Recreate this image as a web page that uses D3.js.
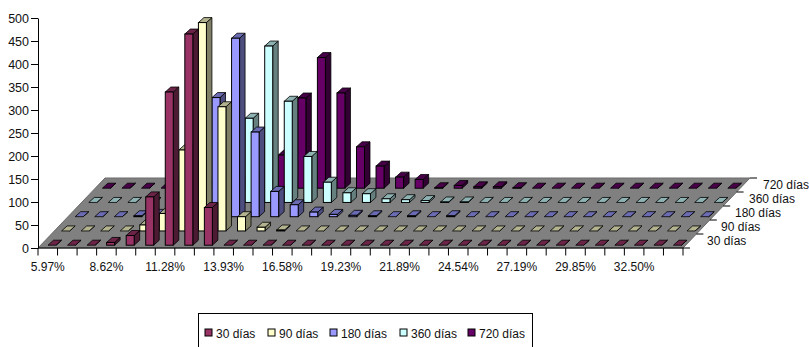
<!DOCTYPE html>
<html>
<head>
<meta charset="utf-8">
<script src="https://cdn.jsdelivr.net/npm/d3@7/dist/d3.min.js"></script>
<style>
  html, body { margin: 0; padding: 0; background: #fff; }
  svg { display: block; }
  text { font-family: "Liberation Sans", Arial, sans-serif; font-size: 12px; fill: #111; }
</style>
</head>
<body>
<svg id="chart" width="809" height="347"></svg>
<script>
// Rate buckets along the horizontal axis; only every third one is labelled.
const categories = ["5.97%","6.85%","7.74%","8.62%","9.51%","10.39%","11.28%","12.16%","13.05%","13.93%","14.81%",
  "15.70%","16.58%","17.46%","18.35%","19.23%","20.12%","21.00%","21.89%","22.77%","23.66%","24.54%",
  "25.42%","26.31%","27.19%","28.08%","28.96%","29.85%","30.73%","31.62%","32.50%","33.38%","34.27%"];
const yTicks = [0, 50, 100, 150, 200, 250, 300, 350, 400, 450, 500];

const seriesNames = ["30 días", "90 días", "180 días", "360 días", "720 días"];
const seriesColors = ["#993366", "#FFFFCC", "#9999FF", "#CCFFFF", "#660066"];

const dias30  = [0,0,0,6,21,105,333,459,82,0,0,0,0,0,0,0,0,0,0,0,0,0,0,0,0,0,0,0,0,0,0,0,0];
const dias90  = [0,0,0,0,13,38,176,453,270,31,8,2,0,0,0,0,0,0,0,0,0,0,0,0,0,0,0,0,0,0,0,0,0];
const dias180 = [0,0,0,2,5,25,110,259,388,184,55,26,10,5,3,2,0,2,0,2,0,0,0,0,0,0,0,0,0,0,0,0,0];
const dias360 = [0,0,0,0,2,8,30,60,183,340,220,100,44,21,19,8,6,4,1,1,0,0,0,0,0,0,0,0,0,0,0,0,0];
const dias720 = [0,0,0,0,0,2,5,10,30,72,196,284,207,90,48,24,19,1,6,3,3,1,0,0,0,0,0,0,0,0,0,0,0];
const seriesValues = [dias30, dias90, dias180, dias360, dias720];

const svg = d3.select("#chart");

// Front plane scales
const x = d3.scaleBand().domain(d3.range(categories.length)).range([38, 683]).paddingInner(0).paddingOuter(0);
const y = d3.scaleLinear().domain([0, 500]).range([248, 18]);

// Oblique projection of the depth axis: series slot -> screen offset
const depthX = d3.scaleLinear().domain([0, 5]).range([0, 67]);
const depthY = d3.scaleLinear().domain([0, 5]).range([0, -70]);

// Depth of a single bar footprint and its placement inside a slot
const barW = 8, barDX = 5.5, barDY = 5;
const slotX = k => 10 + 13.6 * k;
const slotY = k => 245.2 - 14.25 * k;

const shade = (c, f) => {
  const rgb = d3.rgb(c);
  return d3.rgb(rgb.r * f, rgb.g * f, rgb.b * f).formatHex();
};

// Floor
svg.append("polygon")
  .attr("points", [[38, 248], [683, 248], [683 + depthX(5), 248 + depthY(5)], [38 + depthX(5), 248 + depthY(5)]].join(" "))
  .attr("fill", "#808080").attr("stroke", "#6a6a6a").attr("stroke-width", 1);

// Bars, drawn from the rear row forward
const rows = svg.append("g").selectAll("g")
  .data(d3.range(seriesValues.length).reverse())
  .join("g");

rows.each(function (k) {
  const color = seriesColors[k];
  const g = d3.select(this).selectAll("g").data(seriesValues[k]).join("g");
  const left = (d, i) => x(i) + slotX(k);
  const base = slotY(k);
  const top = d => base - (y(0) - y(d));

  g.append("polygon") // right side
    .attr("points", (d, i) => {
      const l = left(d, i) + barW, t = top(d);
      return [[l, t], [l + barDX, t - barDY], [l + barDX, base - barDY], [l, base]].join(" ");
    })
    .attr("fill", shade(color, 0.5)).attr("stroke", "#000").attr("stroke-width", 0.8);

  g.append("polygon") // top
    .attr("points", (d, i) => {
      const l = left(d, i), t = top(d);
      return [[l, t], [l + barW, t], [l + barW + barDX, t - barDY], [l + barDX, t - barDY]].join(" ");
    })
    .attr("fill", shade(color, 0.7)).attr("stroke", "#000").attr("stroke-width", 0.8);

  g.append("rect") // front
    .attr("x", (d, i) => left(d, i))
    .attr("y", d => top(d))
    .attr("width", barW)
    .attr("height", d => base - top(d))
    .attr("fill", color).attr("stroke", "#000").attr("stroke-width", 1);
});

// Value axis
svg.append("g").attr("transform", "translate(38,0)")
  .call(d3.axisLeft(y).tickValues(yTicks).tickSize(7).tickPadding(2).tickSizeOuter(0))
  .call(g => g.selectAll("text").style("font-size", "12.5px").style("font-family", '"Liberation Sans", Arial, sans-serif'));

// Category axis: tick at every bucket boundary, a label on every third bucket
const xAxisG = svg.append("g");
xAxisG.append("line").attr("x1", 38).attr("x2", 683).attr("y1", 248).attr("y2", 248).attr("stroke", "#000");
xAxisG.selectAll("line.tick")
  .data(d3.range(categories.length + 1))
  .join("line").attr("class", "tick")
  .attr("x1", i => 38 + i * x.bandwidth())
  .attr("x2", i => 38 + i * x.bandwidth())
  .attr("y1", 248).attr("y2", 255.5).attr("stroke", "#000");
xAxisG.selectAll("text")
  .data(categories.filter((c, i) => i % 3 === 0 && i <= 30))
  .join("text")
  .attr("x", c => x(categories.indexOf(c)) + x.bandwidth() / 2)
  .attr("y", 270.5)
  .attr("text-anchor", "middle")
  .text(c => c);

// Depth axis labels with their ticks on the right floor edge
const depthG = svg.append("g");
depthG.selectAll("line")
  .data(d3.range(seriesNames.length + 1))
  .join("line")
  .attr("x1", k => 683 + depthX(k)).attr("x2", k => 690 + depthX(k))
  .attr("y1", k => 248 + depthY(k)).attr("y2", k => 248 + depthY(k))
  .attr("stroke", "#000");
depthG.selectAll("text")
  .data(seriesNames)
  .join("text")
  .attr("x", (d, k) => 700.3 + depthX(k + 0.5) + 0.6 * k)
  .attr("y", (d, k) => 248 + depthY(k + 0.5) + 4)
  .text(d => d);

// Legend
const legendSwatchX = [205, 268, 330, 400, 468];
const legend = svg.append("g");
legend.append("rect").attr("x", 198.5).attr("y", 313.5).attr("width", 334).attr("height", 40)
  .attr("fill", "#fff").attr("stroke", "#000");
const items = legend.selectAll("g").data(seriesNames).join("g")
  .attr("transform", (d, i) => `translate(${legendSwatchX[i]},329)`);
items.append("rect").attr("width", 7).attr("height", 7)
  .attr("fill", (d, i) => seriesColors[i]).attr("stroke", "#000");
items.append("text").attr("x", 11).attr("y", 8.5).text(d => d);
</script>
</body>
</html>
